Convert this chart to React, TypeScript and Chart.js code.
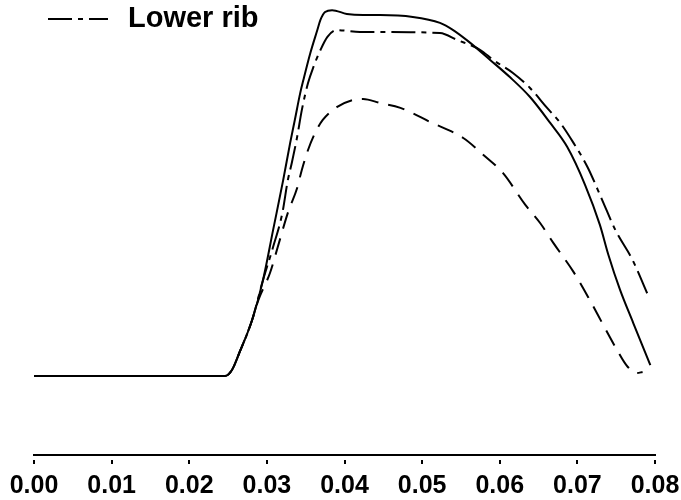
import { useEffect, useRef } from "react";
import { Chart, registerables } from "chart.js";

Chart.register(...registerables);

// x values (time) and relative amplitude values
const solidLabel = "Upper rib";
const solidX = [0, 0.0246, 0.0255, 0.0265, 0.0281, 0.0295, 0.0308, 0.0321, 0.033, 0.0336, 0.0343, 0.0347, 0.0356, 0.0365, 0.0369, 0.0375, 0.0384, 0.0403, 0.0424, 0.0446, 0.0488, 0.0523, 0.054, 0.0562, 0.0588, 0.0613, 0.0639, 0.0665, 0.0687, 0.071, 0.0729, 0.074, 0.0755, 0.0772, 0.0794];
const solidY = [0, 0, 0.016, 0.064, 0.149, 0.255, 0.388, 0.521, 0.62, 0.681, 0.753, 0.787, 0.859, 0.92, 0.947, 0.968, 0.973, 0.963, 0.96, 0.96, 0.955, 0.939, 0.92, 0.886, 0.84, 0.795, 0.742, 0.673, 0.609, 0.508, 0.402, 0.322, 0.229, 0.141, 0.029];

const dashedLabel = "Middle rib";
const dashedX = [0, 0.0246, 0.0255, 0.0265, 0.0281, 0.0289, 0.0304, 0.0314, 0.0327, 0.0339, 0.0345, 0.0353, 0.0362, 0.0372, 0.039, 0.0411, 0.0424, 0.0446, 0.0472, 0.051, 0.0553, 0.0579, 0.0604, 0.0633, 0.0652, 0.0669, 0.0695, 0.0716, 0.0732, 0.0749, 0.0765, 0.0777, 0.0784];
const dashedY = [0, 0, 0.016, 0.064, 0.149, 0.202, 0.274, 0.343, 0.434, 0.5, 0.548, 0.601, 0.646, 0.681, 0.715, 0.734, 0.737, 0.726, 0.713, 0.676, 0.633, 0.588, 0.54, 0.455, 0.407, 0.354, 0.277, 0.202, 0.141, 0.077, 0.024, 0.008, 0.011];

const dashDotLabel = "Lower rib";
const dashDotX = [0, 0.0246, 0.0255, 0.0265, 0.0281, 0.0295, 0.0308, 0.032, 0.0327, 0.0332, 0.0339, 0.0345, 0.0353, 0.036, 0.0369, 0.0378, 0.039, 0.042, 0.0446, 0.0523, 0.0545, 0.0575, 0.0592, 0.0617, 0.0639, 0.0661, 0.0678, 0.0695, 0.0713, 0.0732, 0.0749, 0.0771, 0.0791];
const dashDotY = [0, 0, 0.016, 0.064, 0.149, 0.255, 0.343, 0.434, 0.521, 0.566, 0.636, 0.707, 0.779, 0.822, 0.867, 0.902, 0.92, 0.915, 0.915, 0.912, 0.894, 0.867, 0.84, 0.806, 0.766, 0.713, 0.673, 0.62, 0.556, 0.468, 0.388, 0.309, 0.215];

const xTickValues = [0, 0.01, 0.02, 0.03, 0.04, 0.05, 0.06, 0.07, 0.08];
const legendShown = [dashDotLabel];

const toPoints = (xs: number[], ys: number[]) => xs.map((x, i) => ({ x, y: ys[i] }));

const FONT = "'Liberation Sans', Arial, sans-serif";

const legendPlugin = {
  id: "cornerLegend",
  afterDraw(chart: any) {
    const ctx = chart.ctx;
    chart.data.datasets.forEach((ds: any) => {
      if (!legendShown.includes(ds.label)) return;
      ctx.save();
      ctx.strokeStyle = ds.borderColor;
      ctx.lineWidth = ds.borderWidth;
      ctx.setLineDash(ds.borderDash || []);
      ctx.beginPath();
      ctx.moveTo(48, 19);
      ctx.lineTo(108, 19);
      ctx.stroke();
      ctx.setLineDash([]);
      ctx.fillStyle = "#000";
      ctx.font = `bold 29px ${FONT}`;
      ctx.textBaseline = "alphabetic";
      ctx.fillText(ds.label, 128, 27);
      ctx.restore();
    });
  },
};

// short detached tick marks below the axis line
const tickMarkPlugin = {
  id: "tickMarks",
  afterDraw(chart: any) {
    const scale = chart.scales.x;
    const ctx = chart.ctx;
    ctx.save();
    ctx.strokeStyle = "#000";
    ctx.lineWidth = 2;
    scale.ticks.forEach((t: any) => {
      const px = Math.round(scale.getPixelForValue(t.value));
      ctx.beginPath();
      ctx.moveTo(px, scale.top + 5);
      ctx.lineTo(px, scale.top + 9);
      ctx.stroke();
    });
    ctx.restore();
  },
};

export default function App() {
  const ref = useRef<HTMLCanvasElement | null>(null);
  useEffect(() => {
    if (!ref.current) return;
    const chart = new Chart(ref.current, {
      type: "line",
      data: {
        datasets: [
          {
            label: solidLabel,
            data: toPoints(solidX, solidY),
            borderColor: "#000",
            borderWidth: 2,
            pointRadius: 0,
            cubicInterpolationMode: "monotone",
            fill: false,
          },
          {
            label: dashedLabel,
            data: toPoints(dashedX, dashedY),
            borderColor: "#000",
            borderWidth: 2,
            borderDash: [17, 10],
            pointRadius: 0,
            cubicInterpolationMode: "monotone",
            fill: false,
          },
          {
            label: dashDotLabel,
            data: toPoints(dashDotX, dashDotY),
            borderColor: "#000",
            borderWidth: 2,
            borderDash: [24, 6, 5, 6],
            pointRadius: 0,
            cubicInterpolationMode: "monotone",
            fill: false,
          },
        ],
      },
      options: {
        animation: false,
        responsive: false,
        maintainAspectRatio: false,
        layout: { padding: { left: 34, right: 26, top: 0, bottom: 0 } },
        plugins: { legend: { display: false }, tooltip: { enabled: false } },
        scales: {
          x: {
            type: "linear",
            min: 0,
            max: 0.08,
            afterBuildTicks: (scale: any) => {
              scale.ticks = xTickValues.map((v) => ({ value: v }));
            },
            afterFit: (scale: any) => {
              scale.height = 45;
              scale.paddingLeft = 0;
              scale.paddingRight = 0;
              scale.paddingTop = 0;
              scale.paddingBottom = 0;
            },
            ticks: {
              color: "#000",
              padding: 10,
              maxRotation: 0,
              autoSkip: false,
              font: { family: FONT, size: 25, weight: "bold", lineHeight: 1 },
              callback: (v: any) => Number(v).toFixed(2),
            },
            grid: {
              display: true,
              drawOnChartArea: false,
              drawTicks: true,
              tickLength: 9,
              tickColor: "rgba(0,0,0,0)",
            },
            border: { display: true, color: "#000", width: 2 },
          },
          y: {
            display: false,
            min: -0.21,
            max: 1.0,
          },
        },
      },
      plugins: [legendPlugin, tickMarkPlugin],
    });
    return () => chart.destroy();
  }, []);
  return (
    <div style={{ position: "fixed", left: 0, top: 0, width: 681, height: 500, background: "#fff" }}>
      <canvas ref={ref} width={681} height={500} style={{ display: "block", width: 681, height: 500 }} />
    </div>
  );
}
